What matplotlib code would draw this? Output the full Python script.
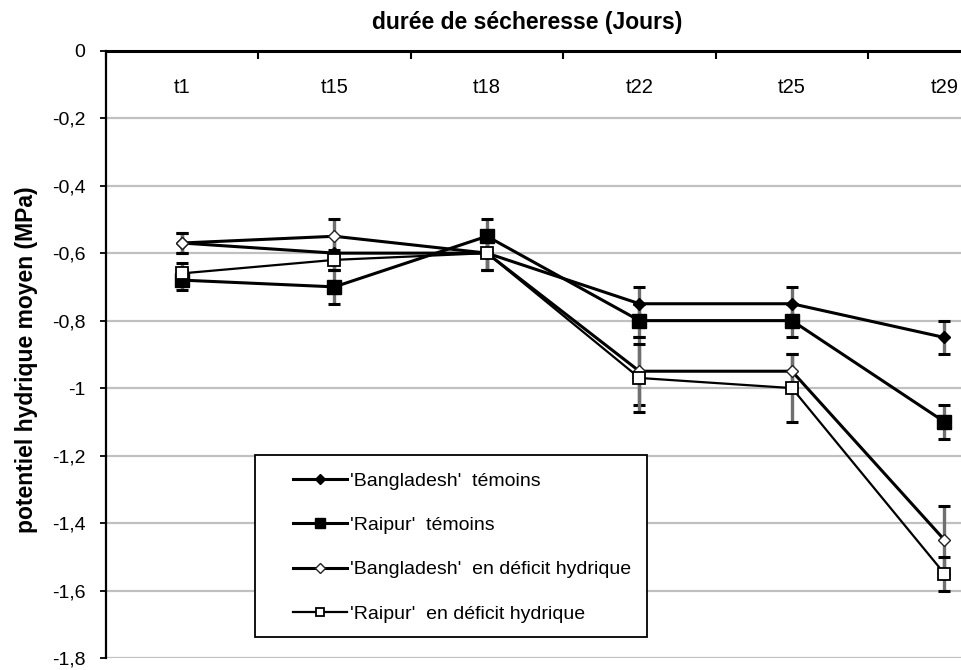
import matplotlib
matplotlib.use("Agg")
import matplotlib.pyplot as plt
from matplotlib.patches import Rectangle
import numpy as np

plt.rcParams['font.family'] = ['Liberation Sans', 'DejaVu Sans']

categories = ['t1', 't15', 't18', 't22', 't25', 't29']
bang_temoin = [-0.57, -0.60, -0.60, -0.75, -0.75, -0.85]
bang_temoin_err = [0.03, 0.05, 0.05, 0.05, 0.05, 0.05]
raipur_temoin = [-0.68, -0.70, -0.55, -0.80, -0.80, -1.10]
raipur_temoin_err = [0.03, 0.05, 0.05, 0.05, 0.05, 0.05]
bang_deficit = [-0.57, -0.55, -0.60, -0.95, -0.95, -1.45]
bang_deficit_err = [0.03, 0.05, 0.05, 0.10, 0.05, 0.10]
raipur_deficit = [-0.66, -0.62, -0.60, -0.97, -1.00, -1.55]
raipur_deficit_err = [0.03, 0.03, 0.05, 0.10, 0.10, 0.05]
yticks = [0, -0.2, -0.4, -0.6, -0.8, -1.0, -1.2, -1.4, -1.6, -1.8]
ytick_labels = ['0', '-0,2', '-0,4', '-0,6', '-0,8', '-1', '-1,2', '-1,4', '-1,6', '-1,8']
labels = ["'Bangladesh'  témoins", "'Raipur'  témoins",
          "'Bangladesh'  en déficit hydrique", "'Raipur'  en déficit hydrique"]

W, H = 962, 670
fig = plt.figure(figsize=(W / 100, H / 100), dpi=100)
ax = fig.add_axes([105.7 / W, 12 / H, 915 / W, 607.3 / H])

x = np.arange(len(categories))
ax.set_xlim(-0.5, len(categories) - 0.5)
ax.set_ylim(-1.8, 0)

# gridlines
ax.set_yticks(yticks)
ax.set_yticklabels(ytick_labels, fontsize=14)
ax.yaxis.grid(True, color='#c0c0c0', linewidth=1.6, zorder=0)
ax.set_axisbelow(True)
ax.tick_params(axis='y', direction='out', length=4.5, width=1.3, pad=10, colors='black')

# x axis: ticks at boundaries on top
ax.set_xticks(np.arange(len(categories) + 1) - 0.5)
ax.set_xticklabels([])
ax.tick_params(axis='x', bottom=False, top=True, direction='in', length=5.5, width=1.5)
for i, c in enumerate(categories):
    ax.text(x[i], 1 - 37 / 607.3, c, transform=ax.get_xaxis_transform(),
            ha='center', va='center', fontsize=14.5)

for s in ['right', 'bottom']:
    ax.spines[s].set_visible(False)
ax.spines['top'].set_linewidth(2.2)
ax.spines['left'].set_linewidth(1.6)

series = [
    (bang_temoin, bang_temoin_err, dict(marker='D', ms=6.5, mfc='black', mec='black', lw=2.2)),
    (raipur_temoin, raipur_temoin_err, dict(marker='s', ms=9.5, mfc='black', mec='black', lw=2.2)),
    (bang_deficit, bang_deficit_err, dict(marker='D', ms=6.5, mfc='white', mec='#222222', mew=1.0, lw=2.2)),
    (raipur_deficit, raipur_deficit_err, dict(marker='s', ms=8, mfc='white', mec='black', mew=1.3, lw=1.6)),
]

handles = []
for (vals, err, st), lab in zip(series, labels):
    ax.errorbar(x, vals, yerr=err, fmt='none', ecolor='#707070', elinewidth=2.4,
                capsize=0, zorder=2)
    ax.errorbar(x, vals, yerr=err, fmt='none', ecolor='black', elinewidth=0,
                capsize=4.5, capthick=2.2, zorder=2)
    ln, = ax.plot(x, vals, color='black', zorder=3, label=lab, **st)
    handles.append(ln)

leg = fig.legend(handles, labels, loc='upper left',
                 bbox_to_anchor=(293 / W, 1 - 472 / H), frameon=False,
                 fontsize=14, handlelength=2.8, handletextpad=0.15,
                 labelspacing=1.38, borderpad=0, borderaxespad=0, markerscale=0.8)
fig.patches.append(Rectangle((255 / W, 1 - 637 / H), 392 / W, 182 / H,
                             transform=fig.transFigure, fill=True, facecolor='white',
                             edgecolor='black', linewidth=1.3, zorder=4))
leg.set_zorder(5)

fig.text(527 / W, 1 - 22.5 / H, 'durée de sécheresse (Jours)', ha='center', va='center',
         fontsize=16.5, fontweight='bold')
fig.text(27 / W, 1 - 360 / H, 'potentiel hydrique moyen (MPa)', ha='center', va='center',
         rotation=90, fontsize=16.5, fontweight='bold')

fig.savefig('out.png', dpi=100)
